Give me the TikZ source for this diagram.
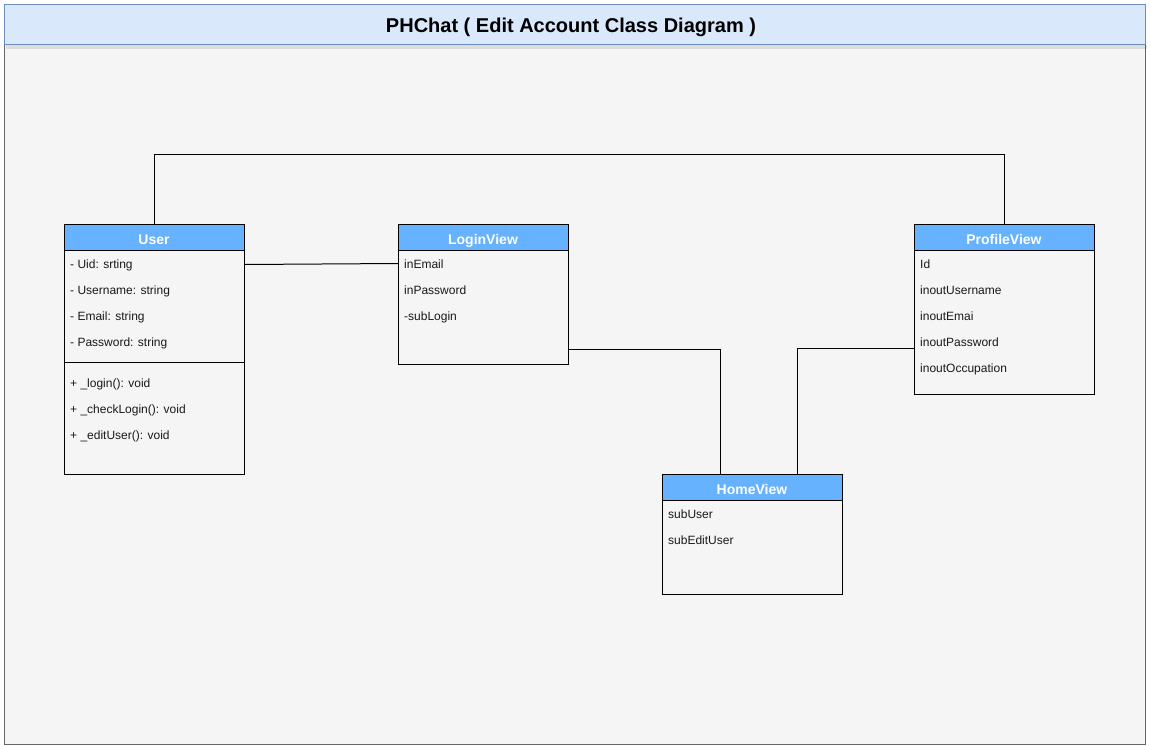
\documentclass[tikz,border=0pt]{standalone}
\usepackage{fontspec}
\setmainfont{Liberation Sans}
\usetikzlibrary{calc}
\definecolor{hdr}{HTML}{66B2FF}
\definecolor{titlefill}{HTML}{DAE8FC}
\definecolor{titleline}{HTML}{6C8EBF}
\definecolor{bodyfill}{HTML}{F5F5F5}
\definecolor{bodyline}{HTML}{666666}
\tikzset{
  classbox/.style={draw=black, line width=1pt, rectangle, anchor=north west, inner sep=0pt, outer sep=0pt, minimum width=180pt},
  hdrfill/.style={fill=hdr, draw=black, line width=1pt},
  hdrtext/.style={text=white, font=\fontsize{14}{16}\selectfont\bfseries, inner sep=0pt, anchor=base},
  attr/.style={anchor=base west, inner sep=0pt, font=\fontsize{12}{14}\selectfont, text=black!90},
  conn/.style={draw=black, line width=1pt}
}
\begin{document}
\begin{tikzpicture}[x=1pt,y=-1pt]
\useasboundingbox (0,0) rectangle (1151,745);
% frame
\fill[bodyfill] (4,44) rectangle (1145,744);
\draw[bodyline, line width=1pt] (4,44) rectangle (1145,744);
\fill[black, opacity=0.10] (6,45) rectangle (1147,48.5);
\draw[titleline, fill=titlefill, line width=1pt] (4,4) rectangle (1145,44);
\node[font=\fontsize{20}{24}\selectfont\bfseries, inner sep=0pt, anchor=base] (title) at (571,32) {PHChat ( Edit Account Class Diagram )};

% User
\node[classbox, minimum height=250pt] (user) at (64,224) {};
\draw[hdrfill] (user.north west) rectangle ($(user.north east)+(0,26)$);
\node[hdrtext] (userh) at ($(user.north)+(0,20)$) {User};
\node[attr] (u1) at (70,268) {- Uid: srting};
\node[attr] (u2) at (70,294) {- Username: string};
\node[attr] (u3) at (70,320) {- Email: string};
\node[attr] (u4) at (70,346) {- Password: string};
\draw[line width=1pt] ($(user.north west)+(0,138)$) -- ($(user.north east)+(0,138)$);
\node[attr] (u5) at (70,387) {+ \_login(): void};
\node[attr] (u6) at (70,413) {+ \_checkLogin(): void};
\node[attr] (u7) at (70,439) {+ \_editUser(): void};

% LoginView
\node[classbox, minimum width=170pt, minimum height=140pt] (login) at (398,224) {};
\draw[hdrfill] (login.north west) rectangle ($(login.north east)+(0,26)$);
\node[hdrtext] (loginh) at ($(login.north)+(0,20)$) {LoginView};
\node[attr] (l1) at (404,268) {inEmail};
\node[attr] (l2) at (404,294) {inPassword};
\node[attr] (l3) at (404,320) {-subLogin};

% ProfileView
\node[classbox, minimum height=170pt] (profile) at (914,224) {};
\draw[hdrfill] (profile.north west) rectangle ($(profile.north east)+(0,26)$);
\node[hdrtext] (profileh) at ($(profile.north)+(0,20)$) {ProfileView};
\node[attr] (p1) at (920,268) {Id};
\node[attr] (p2) at (920,294) {inoutUsername};
\node[attr] (p3) at (920,320) {inoutEmai};
\node[attr] (p4) at (920,346) {inoutPassword};
\node[attr] (p5) at (920,372) {inoutOccupation};

% HomeView
\node[classbox, minimum height=120pt] (home) at (662,474) {};
\draw[hdrfill] (home.north west) rectangle ($(home.north east)+(0,26)$);
\node[hdrtext] (homeh) at ($(home.north)+(0,20)$) {HomeView};
\node[attr] (h1) at (668,518) {subUser};
\node[attr] (h2) at (668,544) {subEditUser};

% connectors
\draw[conn] (user.north) -- ++(0,-70) -| (profile.north);
\draw[conn] ($(user.north east)+(0,40.5)$) -- ($(login.north west)+(0,39.5)$);
\draw[conn] ($(login.south east)+(0,-15)$) -| ($(home.north west)+(58,0)$);
\draw[conn] ($(profile.south west)+(0,-46)$) -| ($(home.north west)+(135,0)$);
\end{tikzpicture}
\end{document}
